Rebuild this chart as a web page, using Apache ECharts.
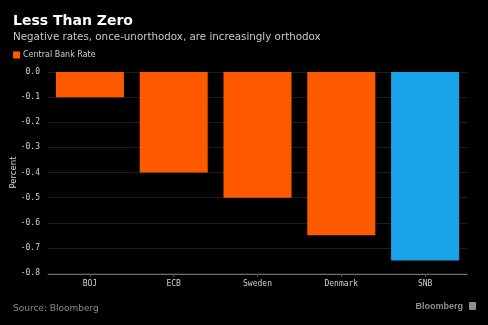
<!DOCTYPE html>
<html><head><meta charset="utf-8">
<script src="https://cdn.jsdelivr.net/npm/echarts@6/dist/echarts.min.js"></script>
<style>html,body{margin:0;padding:0;background:#000;}#c{width:488px;height:325px;}</style>
</head><body><div id="c"></div>
<script>
const categories = ['BOJ', 'ECB', 'Sweden', 'Denmark', 'SNB'];
const rates = [-0.1, -0.4, -0.5, -0.65, -0.75];
const barColors = ['#ff5a00', '#ff5a00', '#ff5a00', '#ff5a00', '#1aa3e8'];
const yTicks = [0, -0.1, -0.2, -0.3, -0.4, -0.5, -0.6, -0.7, -0.8];

const chart = echarts.init(document.getElementById('c'), null, {renderer: 'canvas'});
chart.setOption({
  backgroundColor: '#000',
  animation: false,
  title: [
    {text: 'Less Than Zero', left: 8, top: 9, textStyle: {color: '#fff', fontSize: 14, fontWeight: 'bold', fontFamily: 'DejaVu Sans'}},
    {text: 'Negative rates, once-unorthodox, are increasingly orthodox', left: 8, top: 27, textStyle: {color: '#c8c8c8', fontSize: 10.3, fontWeight: 'normal', fontFamily: 'DejaVu Sans'}},
    {text: 'Source: Bloomberg', left: 8, top: 299, textStyle: {color: '#8a8a8a', fontSize: 9, fontWeight: 'normal', fontFamily: 'DejaVu Sans'}},
    {text: 'Bloomberg', right: 20, top: 297, textStyle: {color: '#8f8f8f', fontSize: 9, fontWeight: 'bold', fontFamily: 'Liberation Sans'}}
  ],
  graphic: [
    {type: 'rect', left: 469, top: 302, shape: {width: 7, height: 8, r: 1}, style: {fill: '#8f8f8f'}}
  ],
  legend: {
    left: 8, top: 46, itemWidth: 7, itemHeight: 7, itemGap: 4,
    icon: 'rect', padding: 5,
    textStyle: {color: '#d0d0d0', fontSize: 8, fontFamily: 'DejaVu Sans', padding: [0,0,0,-2]},
    data: [{name: 'Central Bank Rate', itemStyle: {color: '#ff5a00'}}]
  },
  grid: {left: 48, right: 21, top: 72, bottom: 52, containLabel: false, outerBoundsMode: 'none'},
  xAxis: {
    type: 'category', data: categories, position: 'bottom',
    offset: 1,
    axisLine: {show: true, onZero: false, lineStyle: {color: '#6e6e6e', width: 1}},
    axisTick: {show: true, alignWithLabel: true, length: 3, lineStyle: {color: '#555'}},
    axisLabel: {color: '#d0d0d0', fontSize: 8, fontFamily: 'DejaVu Sans Mono', margin: 6}
  },
  yAxis: {
    type: 'value', min: -0.8, max: 0, interval: 0.1,
    name: 'Percent', nameLocation: 'middle', nameGap: 30, nameRotate: 90, nameMoveOverlap: false,
    nameTextStyle: {color: '#d0d0d0', fontSize: 8.5, fontFamily: 'DejaVu Sans'},
    axisLine: {show: false}, axisTick: {show: false},
    splitLine: {show: true, lineStyle: {color: '#1e1e1e', width: 1}},
    axisLabel: {color: '#d0d0d0', fontSize: 8, fontFamily: 'DejaVu Sans Mono', margin: 8,
      formatter: v => (Math.round(v * 10) / 10).toFixed(1)}
  },
  series: [{
    name: 'Central Bank Rate', type: 'bar', barWidth: 68,
    data: rates.map((v, i) => ({value: v, itemStyle: {color: barColors[i]}})),
    itemStyle: {color: '#ff5a00'}
  }]
});
</script></body></html>
